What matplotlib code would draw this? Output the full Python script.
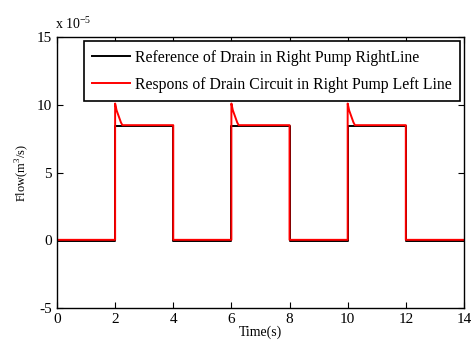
import matplotlib.pyplot as plt
import numpy as np

plt.rcParams['font.family'] = ['Liberation Serif', 'DejaVu Serif']
plt.rcParams['mathtext.fontset'] = 'custom'
plt.rcParams['mathtext.rm'] = 'Liberation Serif'
plt.rcParams['axes.unicode_minus'] = False

# valores en unidades de 1e-5 m^3/s
t_ref = [0, 2, 2, 4, 4, 6, 6, 8, 8, 10, 10, 12, 12, 14]
q_ref = [-0.04, -0.04, 8.45, 8.45, -0.04, -0.04, 8.45, 8.45, -0.04, -0.04, 8.45, 8.45, -0.04, -0.04]

t_resp = [0, 2, 2, 2.05, 2.1, 2.15, 2.2, 2.25, 4, 4,
          6, 6, 6.05, 6.1, 6.15, 6.2, 6.25, 8, 8,
          10, 10, 10.05, 10.1, 10.15, 10.2, 10.25, 12, 12, 14]
q_resp = [0.03, 0.03, 10.1, 9.6, 9.3, 9.0, 8.7, 8.5, 8.5, 0.03,
          0.03, 10.1, 9.6, 9.3, 9.0, 8.7, 8.5, 8.5, 0.03,
          0.03, 10.1, 9.6, 9.3, 9.0, 8.7, 8.5, 8.5, 0.03, 0.03]

fig = plt.figure(figsize=(4.71, 3.41), dpi=100)
ax = fig.add_axes([0.121, 0.097, 0.864, 0.794])

ax.plot(t_ref, q_ref, color='black', lw=1.4,
        label='Reference of Drain in Right Pump RightLine')
ax.plot(t_resp, q_resp, color='red', lw=1.4,
        label='Respons of Drain Circuit in Right Pump Left Line')

ax.set_xlim(0, 14)
ax.set_ylim(-5, 15)
ax.set_xticks(np.arange(0, 15, 2))
ax.set_yticks([-5, 0, 5, 10, 15])
ax.tick_params(direction='in', top=True, right=True, labelsize=11, length=4)
for s in ax.spines.values():
    s.set_linewidth(1.0)

ax.text(-0.005, 1.02, r'x 10$^{-5}$', transform=ax.transAxes, fontsize=10,
        ha='left', va='bottom')
ax.set_xlabel('Time(s)', fontsize=10, labelpad=0)
ax.set_ylabel(r'Flow(m$^3$/s)', fontsize=9, labelpad=4)

leg = ax.legend(loc='upper right', fontsize=11.3, handlelength=2.4,
                handletextpad=0.3, borderaxespad=0.25, borderpad=0.55,
                fancybox=False, framealpha=1,
                edgecolor='black', labelspacing=0.7)
leg.get_frame().set_linewidth(1.2)

plt.savefig('out.png', dpi=100)
